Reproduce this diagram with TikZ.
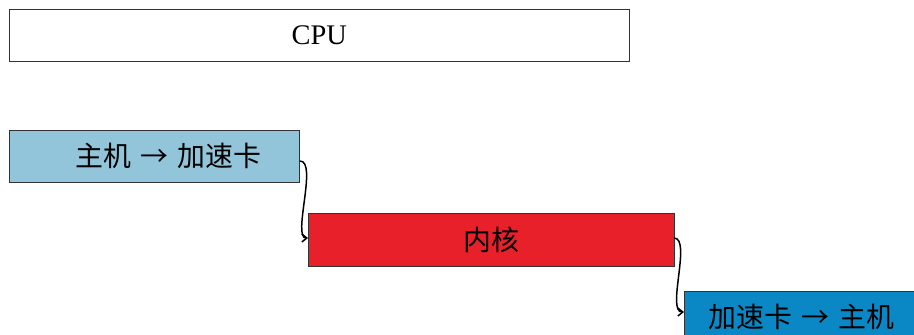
\documentclass[tikz,border=0pt]{standalone}
\usepackage{fontspec}
\setmainfont{Liberation Serif}
\newfontfamily\cjk{Noto Sans CJK SC}
\usetikzlibrary{arrows.meta}
\definecolor{cblue}{HTML}{92C5DA}
\definecolor{cred}{HTML}{E8202A}
\definecolor{cdeep}{HTML}{0A88C6}
\tikzset{
  box/.style={draw=black!80, line width=0.6pt, anchor=north west, inner sep=0pt, minimum height=52bp},
  txt/.style={font=\cjk\fontsize{28}{32}\selectfont},
  conn/.style={line width=1.5pt, -{Straight Barb[length=5pt,width=8pt]}},
}
\begin{document}
\begin{tikzpicture}[x=1bp,y=-1bp]
\useasboundingbox (0,0) rectangle (914,334);
\node[box, minimum width=620bp, font=\fontsize{28.5}{32}\selectfont] (cpu) at (9,9) {CPU};
\node[box, txt, fill=cblue, minimum width=290bp, text width=290bp, align=center] (h2a) at (9,130) {\hspace*{28bp}主机 → 加速卡};
\node[box, txt, fill=cred, minimum width=366bp, minimum height=53bp] (k) at (308,213) {内核};
\node[box, txt, fill=cdeep, minimum width=240bp, text width=240bp, align=center] (a2h) at (684,291) {\hspace*{-5bp}加速卡 → 主机};
\coordinate (s1) at (300,161);
\coordinate (e1) at (308,238);
\coordinate (s2) at (674,238);
\coordinate (e2) at (684,312);
\draw[conn] (s1) .. controls (318,161) and (292,238) .. (e1);
\draw[conn] (s2) .. controls (692,238) and (666,312) .. (e2);
\end{tikzpicture}
\end{document}
